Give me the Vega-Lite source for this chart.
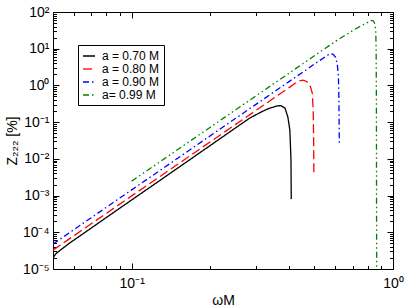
{
  "$schema": "https://vega.github.io/schema/vega-lite/v6.json",
  "width": 340,
  "height": 257,
  "autosize": {"type": "none"},
  "padding": {"left": 53, "top": 12, "right": 12, "bottom": 39},
  "background": "white",
  "config": {
    "view": {"stroke": "black", "strokeWidth": 1},
    "font": "Liberation Sans",
    "axis": {
      "domain": false,
      "grid": false,
      "tickColor": "black",
      "tickWidth": 1,
      "labelColor": "black",
      "labelFont": "Liberation Sans",
      "labelFontSize": 14,
      "titleFont": "Liberation Sans",
      "titleFontSize": 14,
      "titleFontWeight": "normal",
      "titleColor": "black",
      "labelFlush": false,
      "labelOverlap": false,
      "labelBound": false
    }
  },
  "datasets": {
    "curves": [
      {"x": 0.05, "y": 2.0e-5, "a": "a = 0.70 M"},
      {"x": 0.0514, "y": 2.66e-5, "a": "a = 0.70 M"},
      {"x": 0.0579, "y": 5.1e-5, "a": "a = 0.70 M"},
      {"x": 0.065, "y": 9.0e-5, "a": "a = 0.70 M"},
      {"x": 0.08, "y": 2.52e-4, "a": "a = 0.70 M"},
      {"x": 0.1, "y": 7.6e-4, "a": "a = 0.70 M"},
      {"x": 0.12, "y": 1.86e-3, "a": "a = 0.70 M"},
      {"x": 0.15, "y": 5.6e-3, "a": "a = 0.70 M"},
      {"x": 0.2, "y": 0.0232, "a": "a = 0.70 M"},
      {"x": 0.25, "y": 0.070, "a": "a = 0.70 M"},
      {"x": 0.283, "y": 0.129, "a": "a = 0.70 M"},
      {"x": 0.30, "y": 0.161, "a": "a = 0.70 M"},
      {"x": 0.318, "y": 0.200, "a": "a = 0.70 M"},
      {"x": 0.338, "y": 0.242, "a": "a = 0.70 M"},
      {"x": 0.36, "y": 0.275, "a": "a = 0.70 M"},
      {"x": 0.372, "y": 0.283, "a": "a = 0.70 M"},
      {"x": 0.386, "y": 0.242, "a": "a = 0.70 M"},
      {"x": 0.396, "y": 0.138, "a": "a = 0.70 M"},
      {"x": 0.403, "y": 0.061, "a": "a = 0.70 M"},
      {"x": 0.407, "y": 0.0093, "a": "a = 0.70 M"},
      {"x": 0.408, "y": 0.0008, "a": "a = 0.70 M"},

      {"x": 0.05, "y": 3.27e-5, "a": "a = 0.80 M"},
      {"x": 0.06, "y": 8.0e-5, "a": "a = 0.80 M"},
      {"x": 0.07, "y": 1.70e-4, "a": "a = 0.80 M"},
      {"x": 0.08, "y": 3.27e-4, "a": "a = 0.80 M"},
      {"x": 0.1, "y": 9.8e-4, "a": "a = 0.80 M"},
      {"x": 0.12, "y": 2.38e-3, "a": "a = 0.80 M"},
      {"x": 0.15, "y": 7.1e-3, "a": "a = 0.80 M"},
      {"x": 0.2, "y": 0.0292, "a": "a = 0.80 M"},
      {"x": 0.25, "y": 0.087, "a": "a = 0.80 M"},
      {"x": 0.3, "y": 0.212, "a": "a = 0.80 M"},
      {"x": 0.35, "y": 0.453, "a": "a = 0.80 M"},
      {"x": 0.4, "y": 0.87, "a": "a = 0.80 M"},
      {"x": 0.421, "y": 1.13, "a": "a = 0.80 M"},
      {"x": 0.437, "y": 1.32, "a": "a = 0.80 M"},
      {"x": 0.453, "y": 1.40, "a": "a = 0.80 M"},
      {"x": 0.467, "y": 1.28, "a": "a = 0.80 M"},
      {"x": 0.481, "y": 1.03, "a": "a = 0.80 M"},
      {"x": 0.491, "y": 0.62, "a": "a = 0.80 M"},
      {"x": 0.495, "y": 0.214, "a": "a = 0.80 M"},
      {"x": 0.497, "y": 0.0325, "a": "a = 0.80 M"},
      {"x": 0.498, "y": 0.0041, "a": "a = 0.80 M"},

      {"x": 0.05, "y": 4.8e-5, "a": "a = 0.90 M"},
      {"x": 0.06, "y": 1.17e-4, "a": "a = 0.90 M"},
      {"x": 0.07, "y": 2.49e-4, "a": "a = 0.90 M"},
      {"x": 0.08, "y": 4.79e-4, "a": "a = 0.90 M"},
      {"x": 0.1, "y": 1.43e-3, "a": "a = 0.90 M"},
      {"x": 0.12, "y": 3.48e-3, "a": "a = 0.90 M"},
      {"x": 0.15, "y": 0.0104, "a": "a = 0.90 M"},
      {"x": 0.2, "y": 0.0427, "a": "a = 0.90 M"},
      {"x": 0.25, "y": 0.127, "a": "a = 0.90 M"},
      {"x": 0.3, "y": 0.31, "a": "a = 0.90 M"},
      {"x": 0.35, "y": 0.66, "a": "a = 0.90 M"},
      {"x": 0.4, "y": 1.27, "a": "a = 0.90 M"},
      {"x": 0.45, "y": 2.26, "a": "a = 0.90 M"},
      {"x": 0.5, "y": 3.8, "a": "a = 0.90 M"},
      {"x": 0.55, "y": 6.0, "a": "a = 0.90 M"},
      {"x": 0.575, "y": 7.4, "a": "a = 0.90 M"},
      {"x": 0.59, "y": 7.0, "a": "a = 0.90 M"},
      {"x": 0.603, "y": 5.8, "a": "a = 0.90 M"},
      {"x": 0.612, "y": 3.8, "a": "a = 0.90 M"},
      {"x": 0.618, "y": 1.9, "a": "a = 0.90 M"},
      {"x": 0.621, "y": 0.40, "a": "a = 0.90 M"},
      {"x": 0.623, "y": 0.027, "a": "a = 0.90 M"},

      {"x": 0.1, "y": 2.48e-3, "a": "a= 0.99 M"},
      {"x": 0.12, "y": 6.0e-3, "a": "a= 0.99 M"},
      {"x": 0.15, "y": 0.0179, "a": "a= 0.99 M"},
      {"x": 0.2, "y": 0.073, "a": "a= 0.99 M"},
      {"x": 0.25, "y": 0.217, "a": "a= 0.99 M"},
      {"x": 0.3, "y": 0.528, "a": "a= 0.99 M"},
      {"x": 0.4, "y": 2.15, "a": "a= 0.99 M"},
      {"x": 0.5, "y": 6.4, "a": "a= 0.99 M"},
      {"x": 0.6, "y": 15.6, "a": "a= 0.99 M"},
      {"x": 0.7, "y": 31, "a": "a= 0.99 M"},
      {"x": 0.75, "y": 41, "a": "a= 0.99 M"},
      {"x": 0.8, "y": 52, "a": "a= 0.99 M"},
      {"x": 0.826, "y": 59, "a": "a= 0.99 M"},
      {"x": 0.842, "y": 57, "a": "a= 0.99 M"},
      {"x": 0.853, "y": 47, "a": "a= 0.99 M"},
      {"x": 0.859, "y": 30, "a": "a= 0.99 M"},
      {"x": 0.862, "y": 10, "a": "a= 0.99 M"},
      {"x": 0.864, "y": 0.3, "a": "a= 0.99 M"},
      {"x": 0.865, "y": 0.001, "a": "a= 0.99 M"},
      {"x": 0.866, "y": 1e-5, "a": "a= 0.99 M"}
    ]
  },
  "data": {"name": "curves"},
  "layer": [
    {
      "mark": {"type": "line", "strokeWidth": 1.3, "clip": true},
      "encoding": {
        "x": {
          "field": "x", "type": "quantitative",
          "scale": {"type": "log", "domain": [0.05, 1], "nice": false},
          "axis": {
            "orient": "bottom", "values": [0.1, 1], "ticks": false,
            "labelExpr": "'10' + ['⁻⁵','⁻⁴','⁻³','⁻²','⁻¹','⁰','¹','²'][round(log(datum.value)/LN10)+5]",
            "labelPadding": 7, "title": "ωM", "titlePadding": 3
          }
        },
        "y": {
          "field": "y", "type": "quantitative",
          "scale": {"type": "log", "domain": [1e-5, 100], "nice": false},
          "axis": {
            "orient": "left", "values": [1e-5, 1e-4, 0.001, 0.01, 0.1, 1, 10, 100], "ticks": false,
            "labelExpr": "'10' + ['⁻⁵','⁻⁴','⁻³','⁻²','⁻¹','⁰','¹','²'][round(log(datum.value)/LN10)+5]",
            "labelPadding": 4, "title": "Z₂₂₂ [%]", "titlePadding": 3
          }
        },
        "color": {
          "field": "a", "type": "nominal",
          "scale": {"domain": ["a = 0.70 M", "a = 0.80 M", "a = 0.90 M", "a= 0.99 M"], "range": ["#000000", "#ff0000", "#0000ff", "#008000"]},
          "legend": {"orient": "none", "legendX": 25, "legendY": 33, "title": null, "strokeColor": "black", "fillColor": "white", "padding": 4, "symbolType": "stroke", "symbolSize": 144, "symbolStrokeWidth": 1.3, "labelFontSize": 12, "labelFont": "Liberation Sans", "labelColor": "black", "rowPadding": 0, "labelOffset": 6, "labelLimit": 200, "cornerRadius": 0}
        },
        "strokeDash": {
          "field": "a", "type": "nominal",
          "scale": {"domain": ["a = 0.70 M", "a = 0.80 M", "a = 0.90 M", "a= 0.99 M"], "range": [[1, 0], [9, 4], [6, 3, 1.5, 3], [6, 3, 1.5, 3, 1.5, 3]]},
          "legend": {"orient": "none", "legendX": 25, "legendY": 33, "title": null, "strokeColor": "black", "fillColor": "white", "padding": 4, "symbolType": "stroke", "symbolSize": 144, "symbolStrokeWidth": 1.3, "labelFontSize": 12, "labelFont": "Liberation Sans", "labelColor": "black", "rowPadding": 0, "labelOffset": 6, "labelLimit": 200, "cornerRadius": 0}
        }
      }
    },
    {
      "mark": {"type": "point", "opacity": 0},
      "encoding": {
        "x": {"field": "x", "type": "quantitative", "scale": {"type": "log", "domain": [0.05, 1], "nice": false},
          "axis": {"orient": "bottom", "values": [0.1, 1], "labels": false, "tickSize": -6, "title": null}},
        "y": {"field": "y", "type": "quantitative", "scale": {"type": "log", "domain": [1e-5, 100], "nice": false},
          "axis": {"orient": "left", "values": [1e-5, 1e-4, 0.001, 0.01, 0.1, 1, 10, 100], "labels": false, "tickSize": -6, "title": null}}
      }
    },
    {
      "mark": {"type": "point", "opacity": 0},
      "encoding": {
        "x": {"field": "x", "type": "quantitative", "scale": {"type": "log", "domain": [0.05, 1], "nice": false},
          "axis": {"orient": "bottom", "values": [0.06, 0.07, 0.08, 0.09, 0.2, 0.3, 0.4, 0.5, 0.6, 0.7, 0.8, 0.9], "labels": false, "tickSize": -3.5, "title": null}},
        "y": {"field": "y", "type": "quantitative", "scale": {"type": "log", "domain": [1e-5, 100], "nice": false},
          "axis": {"orient": "left", "values": [2e-5, 3e-5, 4e-5, 5e-5, 6e-5, 7e-5, 8e-5, 9e-5, 2e-4, 3e-4, 4e-4, 5e-4, 6e-4, 7e-4, 8e-4, 9e-4, 0.002, 0.003, 0.004, 0.005, 0.006, 0.007, 0.008, 0.009, 0.02, 0.03, 0.04, 0.05, 0.06, 0.07, 0.08, 0.09, 0.2, 0.3, 0.4, 0.5, 0.6, 0.7, 0.8, 0.9, 2, 3, 4, 5, 6, 7, 8, 9, 20, 30, 40, 50, 60, 70, 80, 90], "labels": false, "tickSize": -3.5, "title": null}}
      }
    },
    {
      "mark": {"type": "point", "opacity": 0},
      "encoding": {
        "x": {"field": "x", "type": "quantitative", "scale": {"type": "log", "domain": [0.05, 1], "nice": false},
          "axis": {"orient": "top", "values": [0.1, 1], "labels": false, "tickSize": -6, "title": null}},
        "y": {"field": "y", "type": "quantitative", "scale": {"type": "log", "domain": [1e-5, 100], "nice": false},
          "axis": {"orient": "right", "values": [1e-5, 1e-4, 0.001, 0.01, 0.1, 1, 10, 100], "labels": false, "tickSize": -6, "title": null}}
      }
    },
    {
      "mark": {"type": "point", "opacity": 0},
      "encoding": {
        "x": {"field": "x", "type": "quantitative", "scale": {"type": "log", "domain": [0.05, 1], "nice": false},
          "axis": {"orient": "top", "values": [0.06, 0.07, 0.08, 0.09, 0.2, 0.3, 0.4, 0.5, 0.6, 0.7, 0.8, 0.9], "labels": false, "tickSize": -3.5, "title": null}},
        "y": {"field": "y", "type": "quantitative", "scale": {"type": "log", "domain": [1e-5, 100], "nice": false},
          "axis": {"orient": "right", "values": [2e-5, 3e-5, 4e-5, 5e-5, 6e-5, 7e-5, 8e-5, 9e-5, 2e-4, 3e-4, 4e-4, 5e-4, 6e-4, 7e-4, 8e-4, 9e-4, 0.002, 0.003, 0.004, 0.005, 0.006, 0.007, 0.008, 0.009, 0.02, 0.03, 0.04, 0.05, 0.06, 0.07, 0.08, 0.09, 0.2, 0.3, 0.4, 0.5, 0.6, 0.7, 0.8, 0.9, 2, 3, 4, 5, 6, 7, 8, 9, 20, 30, 40, 50, 60, 70, 80, 90], "labels": false, "tickSize": -3.5, "title": null}}
      }
    }
  ],
  "resolve": {"axis": {"x": "independent", "y": "independent"}}
}
